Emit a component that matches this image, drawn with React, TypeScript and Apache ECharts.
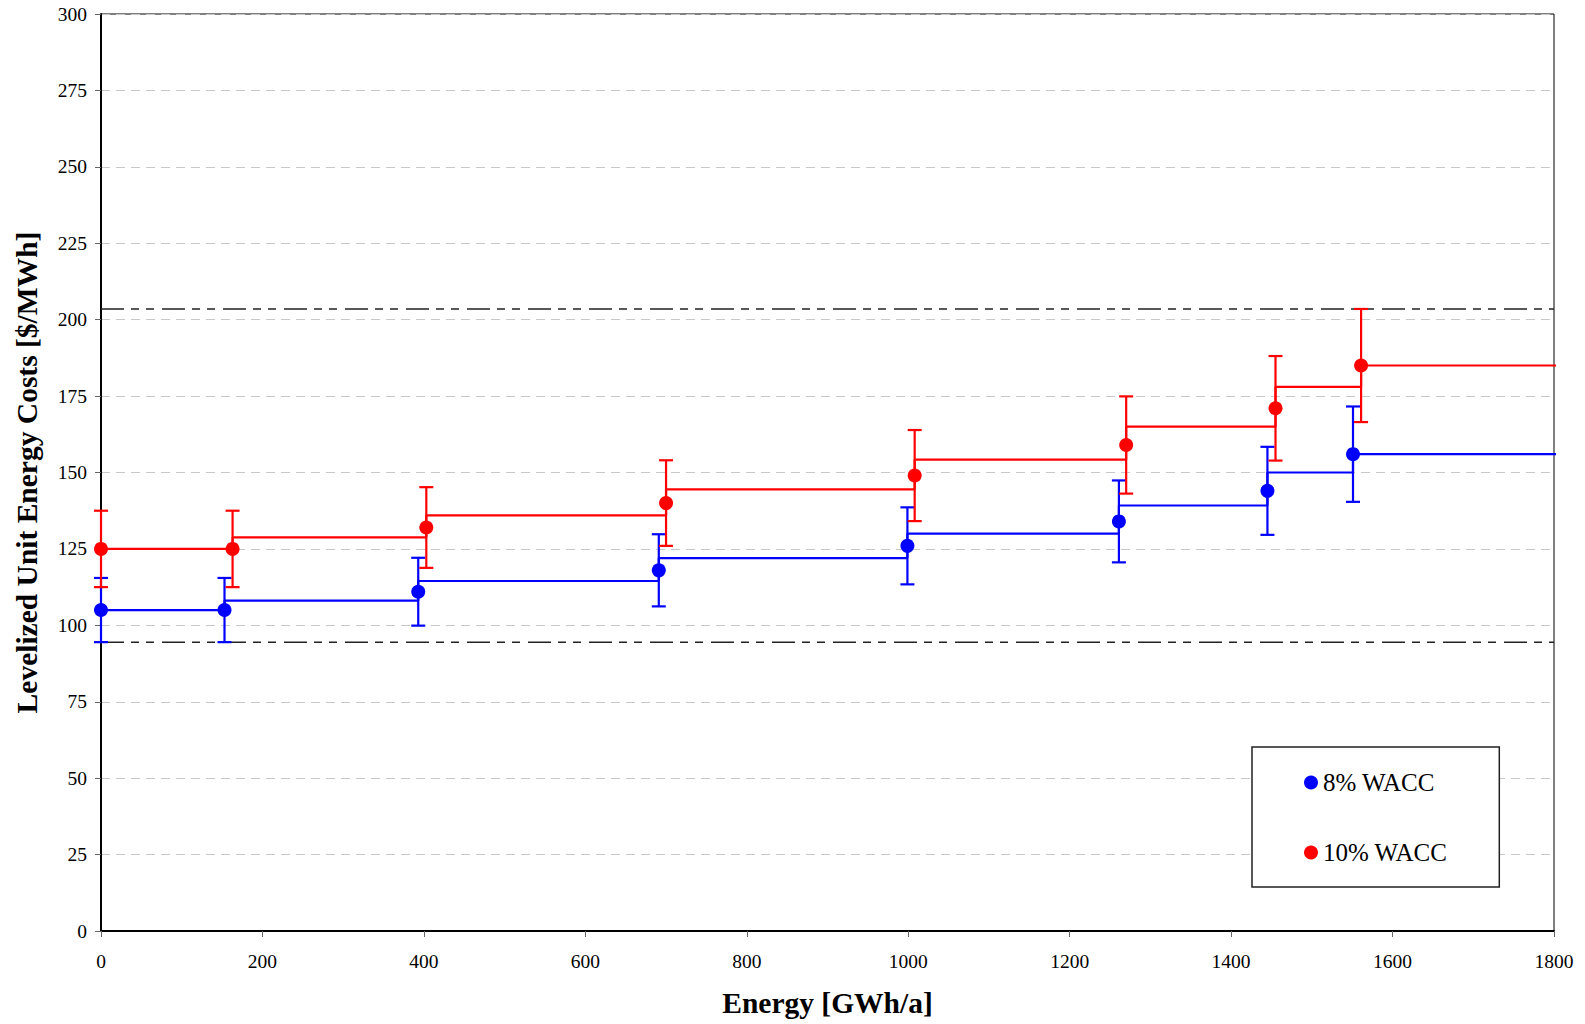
import React, { useEffect, useRef } from "react";
import * as echarts from "echarts";

// ---- data ----
const xTicks = { min: 0, max: 1800, interval: 200 };
const yTicks = { min: 0, max: 300, interval: 25 };

const seriesNames = ["8% WACC", "10% WACC"];

const blueX = [0, 153, 393, 691, 999, 1261, 1445, 1551];
const blueY = [105, 105, 111, 118, 126, 134, 144, 156];
const blueLow = [94.5, 94.5, 99.9, 106.2, 113.4, 120.6, 129.6, 140.4];
const blueHigh = [115.5, 115.5, 122.1, 129.8, 138.6, 147.4, 158.4, 171.6];
const blueStep = [105, 108.1, 114.5, 122, 130, 139.2, 150, 156];

const redX = [0, 163, 403, 700, 1008, 1270, 1455, 1561];
const redY = [125, 125, 132, 140, 149, 159, 171, 185];
const redLow = [112.5, 112.5, 118.8, 126, 134.1, 143.1, 153.9, 166.5];
const redHigh = [137.5, 137.5, 145.2, 154, 163.9, 174.9, 188.1, 203.5];
const redStep = [125, 128.8, 136, 144.5, 154.2, 165, 178, 185];

const stepEndX = 1808;
const refLineValues = [94.5, 203.5];

const BLUE = "#0000ff";
const RED = "#ff0000";
const FONT = "'Liberation Serif', 'Times New Roman', serif";

function stepData(xs: number[], levels: number[]) {
  const d = xs.map((x, i) => [x, levels[i]]);
  d.push([stepEndX, levels[levels.length - 1]]);
  return d;
}

function errorData(xs: number[], lo: number[], hi: number[]) {
  return xs.map((x, i) => [x, lo[i], hi[i]]);
}

function errorBarSeries(name: string, color: string, data: number[][]) {
  return {
    name,
    type: "custom",
    silent: true,
    clip: false,
    z: 3,
    encode: { x: 0, y: [1, 2] },
    data,
    renderItem: (params: any, api: any) => {
      const x = api.value(0);
      const pLo = api.coord([x, api.value(1)]);
      const pHi = api.coord([x, api.value(2)]);
      const half = 7;
      const style = { stroke: color, lineWidth: 2.2 };
      return {
        type: "group",
        children: [
          { type: "line", shape: { x1: pLo[0], y1: pLo[1], x2: pHi[0], y2: pHi[1] }, style },
          { type: "line", shape: { x1: pLo[0] - half, y1: pLo[1], x2: pLo[0] + half, y2: pLo[1] }, style },
          { type: "line", shape: { x1: pHi[0] - half, y1: pHi[1], x2: pHi[0] + half, y2: pHi[1] }, style },
        ],
      };
    },
  };
}

export default function App() {
  const ref = useRef<HTMLDivElement>(null);

  useEffect(() => {
    if (!ref.current) return;
    const chart = echarts.init(ref.current, undefined, { renderer: "svg" });

    const refSeries = refLineValues.map((v, i) => ({
      name: "ref" + i,
      type: "line",
      silent: true,
      symbol: "none",
      clip: false,
      z: 1,
      data: [
        [xTicks.min, v],
        [xTicks.max, v],
      ],
      lineStyle: { color: "#222", width: 1.5, type: [23, 7, 8, 7, 8, 8] },
    }));

    chart.setOption({
      animation: false,
      backgroundColor: "#ffffff",
      grid: {
        left: 101,
        top: 14,
        right: 31,
        bottom: 93,
        show: true,
        borderColor: "#000",
        borderWidth: 1,
        backgroundColor: "transparent",
      },
      legend: {
        data: seriesNames,
        orient: "vertical",
        left: 1252,
        top: 747,
        icon: "circle",
        itemWidth: 14,
        itemHeight: 14,
        itemGap: 45,
        padding: [23, 52, 22, 52],
        borderColor: "#222",
        borderWidth: 1.5,
        backgroundColor: "#fff",
        selectedMode: false,
        textStyle: { fontFamily: FONT, fontSize: 25, color: "#000" },
      },
      xAxis: {
        type: "value",
        min: xTicks.min,
        max: xTicks.max,
        interval: xTicks.interval,
        name: "Energy [GWh/a]",
        nameLocation: "middle",
        nameGap: 57,
        nameTextStyle: { fontFamily: FONT, fontSize: 29.5, fontWeight: "bold", color: "#000" },
        axisLine: { show: true, onZero: false, lineStyle: { color: "#000", width: 2 } },
        axisTick: { show: true, inside: false, length: 6, lineStyle: { color: "#666", width: 1 } },
        axisLabel: {
          fontFamily: FONT,
          fontSize: 19.5,
          color: "#000",
          margin: 20,
          formatter: (v: number) => String(v),
        },
        splitLine: { show: false },
      },
      yAxis: {
        type: "value",
        min: yTicks.min,
        max: yTicks.max,
        interval: yTicks.interval,
        name: "Levelized Unit Energy Costs [$/MWh]",
        nameLocation: "middle",
        nameGap: 59,
        nameTextStyle: { fontFamily: FONT, fontSize: 29.5, fontWeight: "bold", color: "#000" },
        axisLine: { show: true, onZero: false, lineStyle: { color: "#000", width: 2 } },
        axisTick: { show: true, inside: false, length: 6, lineStyle: { color: "#666", width: 1 } },
        axisLabel: {
          fontFamily: FONT,
          fontSize: 19.5,
          color: "#000",
          margin: 14,
          formatter: (v: number) => String(v),
        },
        splitLine: { show: true, lineStyle: { color: "#c8c8c8", width: 1, type: [9, 6] } },
      },
      series: [
        ...refSeries,
        {
          name: "8% step",
          type: "line",
          step: "end",
          symbol: "none",
          silent: true,
          clip: false,
          z: 2,
          data: stepData(blueX, blueStep),
          lineStyle: { color: BLUE, width: 2.2 },
        },
        {
          name: "10% step",
          type: "line",
          step: "end",
          symbol: "none",
          silent: true,
          clip: false,
          z: 2,
          data: stepData(redX, redStep),
          lineStyle: { color: RED, width: 2.2 },
        },
        errorBarSeries("8% err", BLUE, errorData(blueX, blueLow, blueHigh)),
        errorBarSeries("10% err", RED, errorData(redX, redLow, redHigh)),
        {
          name: seriesNames[0],
          type: "scatter",
          symbol: "circle",
          symbolSize: 14,
          clip: false,
          z: 4,
          itemStyle: { color: BLUE, opacity: 1 },
          data: blueX.map((x, i) => [x, blueY[i]]),
        },
        {
          name: seriesNames[1],
          type: "scatter",
          symbol: "circle",
          symbolSize: 14,
          clip: false,
          z: 4,
          itemStyle: { color: RED, opacity: 1 },
          data: redX.map((x, i) => [x, redY[i]]),
        },
      ],
    });

    return () => chart.dispose();
  }, []);

  return (
    <div
      ref={ref}
      style={{ position: "fixed", left: 0, top: 0, width: 1585, height: 1024, background: "#fff" }}
    />
  );
}
